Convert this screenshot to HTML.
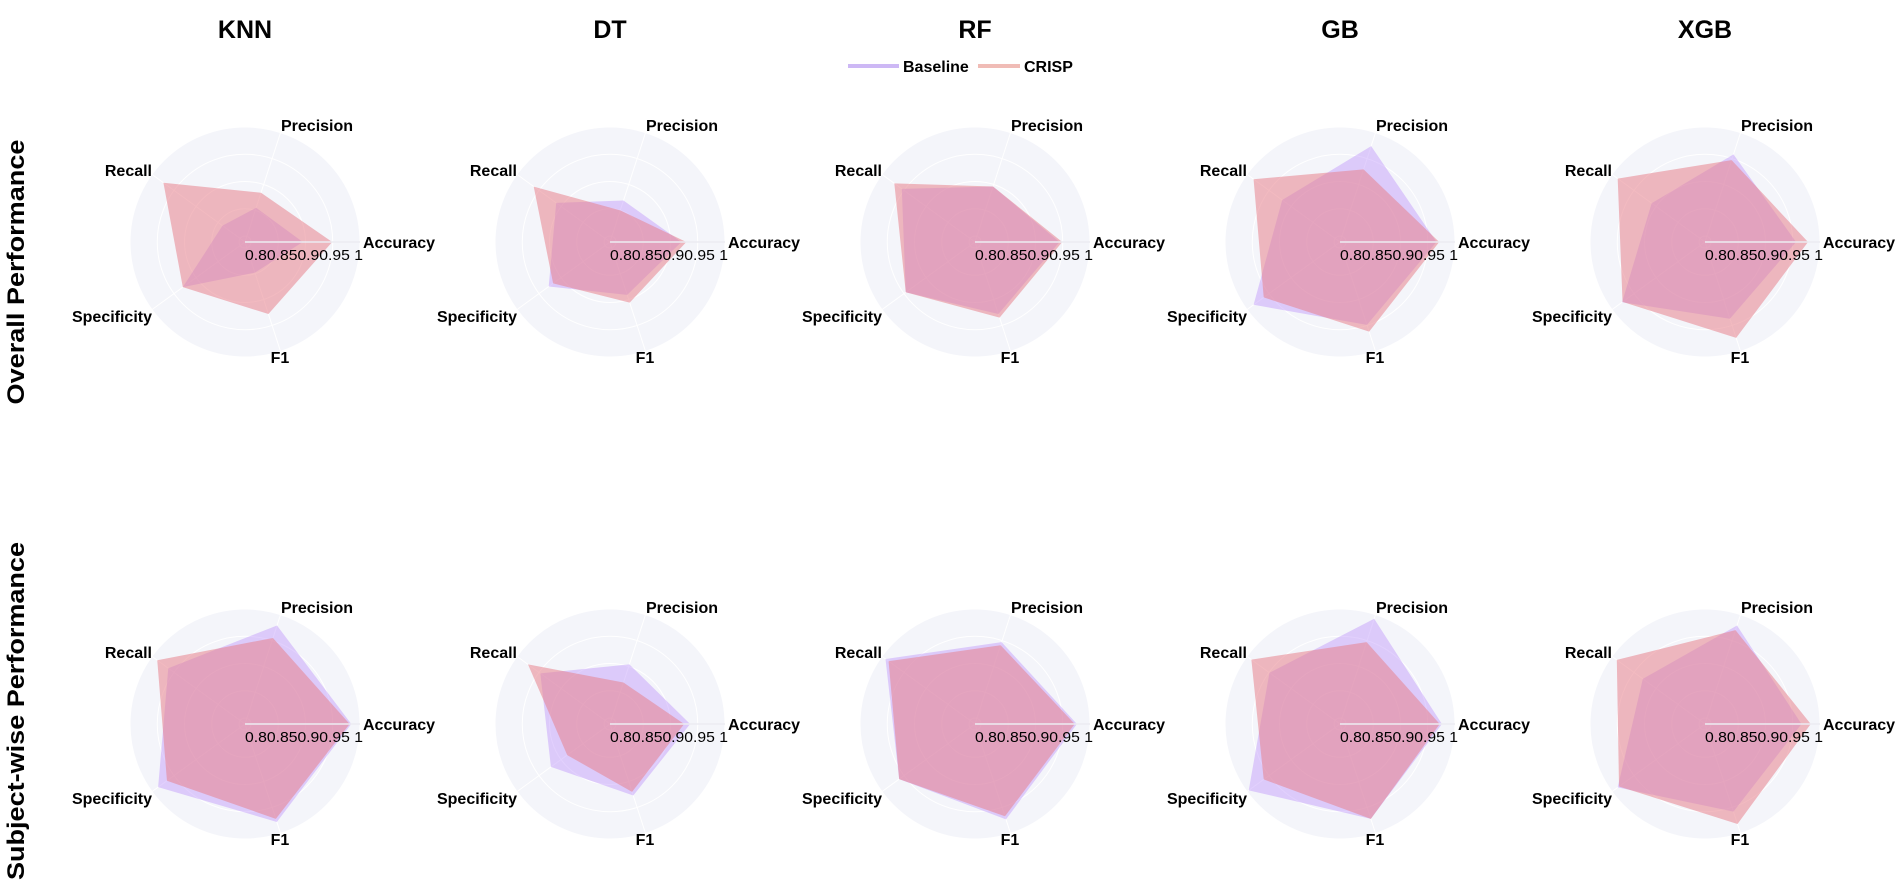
<!DOCTYPE html>
<html><head><meta charset="utf-8"><style>
html,body{margin:0;padding:0;background:#fff;}
svg{display:block;font-family:"Liberation Sans",Arial,sans-serif;}
</style></head><body>
<svg id="chart" width="1902" height="881" viewBox="0 0 1902 881">
<g>
 <g>
  <line x1="848" y1="66" x2="899" y2="66" stroke="#cdb8f5" stroke-width="4"/>
  <text x="903" y="72" font-size="16" font-weight="bold">Baseline</text>
 </g>
 <g>
  <line x1="978" y1="66" x2="1020" y2="66" stroke="#f0bcb6" stroke-width="4"/>
  <text x="1024" y="72" font-size="16" font-weight="bold">CRISP</text>
 </g>
</g>
<text transform="translate(24,272) rotate(-90)" text-anchor="middle" font-size="24" font-weight="900" textLength="265" lengthAdjust="spacingAndGlyphs">Overall Performance</text>
<text transform="translate(24,711) rotate(-90)" text-anchor="middle" font-size="24" font-weight="900" textLength="338" lengthAdjust="spacingAndGlyphs">Subject-wise Performance</text>
</svg>
<script>
const models = ["KNN","DT","RF","GB","XGB"];
const metrics = ["Accuracy","Precision","Recall","Specificity","F1"];
const tickLabels = ["0.8","0.85","0.9","0.95","1"];
// Overall performance (row 1)
const overallBaseline = [
 [0.895,0.855,0.840,0.930,0.848],
 [0.920,0.869,0.911,0.928,0.891],
 [0.944,0.896,0.955,0.946,0.928],
 [0.966,0.974,0.920,0.985,0.949],
 [0.956,0.958,0.910,0.977,0.937]
];
const overallCrisp = [
 [0.949,0.884,0.974,0.930,0.928],
 [0.929,0.850,0.962,0.918,0.906],
 [0.949,0.896,0.972,0.946,0.935],
 [0.971,0.929,0.985,0.962,0.962],
 [0.978,0.947,0.987,0.976,0.974]
];
// Subject-wise performance (row 2)
const subjectBaseline = [
 [0.984,0.979,0.963,0.986,0.978],
 [0.936,0.904,0.947,0.923,0.927],
 [0.976,0.947,0.992,0.961,0.973],
 [0.976,0.992,0.949,0.996,0.972],
 [0.966,0.979,0.930,0.987,0.958]
];
const subjectCrisp = [
 [0.981,0.955,0.988,0.966,0.972],
 [0.925,0.869,0.975,0.886,0.920],
 [0.972,0.941,0.985,0.961,0.967],
 [0.972,0.947,0.990,0.962,0.972],
 [0.983,0.970,0.989,0.984,0.982]
];

const NS="http://www.w3.org/2000/svg";
const svg=document.getElementById('chart');
const R=115, RMIN=0.789, RMAX=1.0;
const colX=i=>245+365*i;
const rowY=[242,724];
function rScale(v){return (v-RMIN)/(RMAX-RMIN)*R;}
function ang(k){return k*72*Math.PI/180;}
function pt(cx,cy,k,v){const r=rScale(v);return [cx+r*Math.cos(ang(k)), cy-r*Math.sin(ang(k))];}
function mk(tag,attrs,parent){const e=document.createElementNS(NS,tag);for(const k in attrs)e.setAttribute(k,attrs[k]);parent.appendChild(e);return e;}

models.forEach((m,i)=>{
  const t=mk('text',{x:colX(i),y:38,'text-anchor':'middle','font-size':25,'font-weight':'900'},svg);
  t.textContent=m;
  
  
});

const rows=[[overallBaseline,overallCrisp,'overall'],[subjectBaseline,subjectCrisp,'subject']];
rows.forEach((row,ri)=>{
  const cy=rowY[ri];
  models.forEach((m,i)=>{
    const cx=colX(i);
    const g=mk('g',{},svg);
    
    
    mk('circle',{cx:cx,cy:cy,r:R,fill:'#f4f5fa'},g);
    tickLabels.forEach(tl=>{
      const c=mk('circle',{cx:cx,cy:cy,r:rScale(parseFloat(tl)),fill:'none',stroke:'#ffffff','stroke-width':1},g);
      
      
    });
    metrics.forEach((mt,k)=>{
      const p=pt(cx,cy,k,RMAX);
      mk('line',{x1:cx,y1:cy,x2:p[0],y2:p[1],stroke:'#ffffff','stroke-width':1},g);
    });
    [[row[0][i],'rgba(190,150,250,0.45)','baseline'],[row[1][i],'rgba(232,130,140,0.55)','crisp']].forEach(s=>{
      const pts=s[0].map((v,k)=>pt(cx,cy,k,v).join(',')).join(' ');
      const poly=mk('polygon',{points:pts,fill:s[1],stroke:'none'},g);
      
      
    });
    mk('line',{x1:cx,y1:cy,x2:cx+R,y2:cy,stroke:'#ececf2','stroke-width':1.5},g);
    const tk=mk('text',{x:cx,y:cy+18,'font-size':15,textLength:118,lengthAdjust:'spacingAndGlyphs'},g);
    tk.textContent=tickLabels.slice(0,4).join('')+' '+tickLabels[4];
    
    
    const labs=[[cx+118,cy+6,'start'],[cx+36,cy-111,'start'],[cx-93,cy-66,'end'],[cx-93,cy+80,'end'],[cx+35,cy+121,'middle']];
    metrics.forEach((mt,k)=>{
      const l=mk('text',{x:labs[k][0],y:labs[k][1],'text-anchor':labs[k][2],'font-size':16,'font-weight':'900'},g);
      l.textContent=mt;
      
      
    });
  });
});
</script>
</body></html>
